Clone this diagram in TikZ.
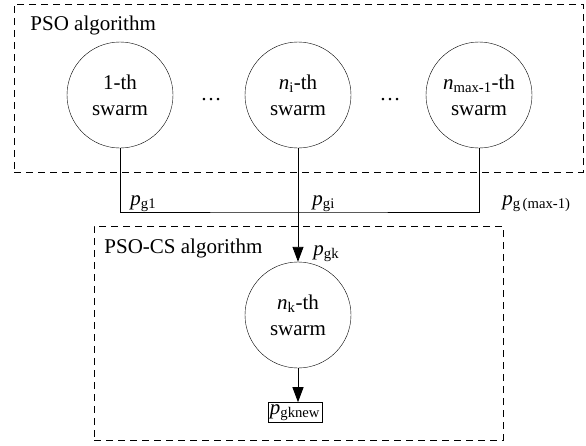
\documentclass[tikz,border=0pt]{standalone}
\usepackage{fontspec}
\setmainfont{Liberation Serif}
\usetikzlibrary{arrows.meta,positioning}
\newcommand{\pvar}[1]{\textit{p}\textsubscript{#1}}
\newcommand{\nvar}[1]{\textit{n}\textsubscript{#1}}
\tikzset{
    basic/.style  = {font=\fontsize{21}{26}\selectfont},
    swarm/.style  = {basic, draw, circle, thin, minimum size=106pt, inner sep=0pt, align=center},
    region/.style = {draw, thick, dash pattern=on 7pt off 5pt, rectangle, inner sep=0pt},
    title/.style  = {basic, anchor=base west, inner sep=0pt},
    plabel/.style = {basic, anchor=base west, inner sep=0pt},
    result/.style = {basic, draw, thin, rectangle, inner sep=2pt}
}

\begin{document}
\begin{tikzpicture}[x=1pt,y=-1pt,line width=0.9pt,
	arrow/.style={-{Triangle[length=15pt,width=11pt]}}]
		\useasboundingbox (0,0) rectangle (586,445);
		% dashed regions
		\node[region, minimum width=569pt, minimum height=168pt] (psobox) at (298.5,88) {};
		\node[region, minimum width=409pt, minimum height=214pt] (csbox) at (298.5,333) {};
		\node[title] (psotitle) at (30,30) {PSO algorithm};
		\node[title] (cstitle) at (104,253) {PSO-CS algorithm};
		% swarms
		\node[swarm] (s1) at (120,95) {1-th\\swarm};
		\node[swarm] (si) at (298,95) {\nvar{i}-th\\swarm};
		\node[swarm] (smax) at (479,95) {\nvar{max-1}-th\\swarm};
		\node[basic] (dots1) at (211,100) {\dots};
		\node[basic] (dots2) at (390,100) {\dots};
		\node[swarm] (sk) at (298,315) {\nvar{k}-th\\swarm};
		\node[result] (pnew) at (295,412.5) {\pvar{gknew}};
		% connectors
		\coordinate (bus) at (298,212);
		\draw (s1.south) |- (bus) -| (smax.south);
		\draw[arrow] (si.south) -- (sk.north);
		\draw[arrow] (sk.south) -- (sk.south |- pnew.north);
		% labels
		\node[plabel] (lg1) at (130,205) {\pvar{g1}};
		\node[plabel] (lgi) at (312,205) {\pvar{gi}};
		\node[plabel] (lgmax) at (502,205) {\pvar{g\,(max-1)}};
		\node[plabel] (lgk) at (313,255) {\pvar{gk}};
	\end{tikzpicture}
\end{document}
